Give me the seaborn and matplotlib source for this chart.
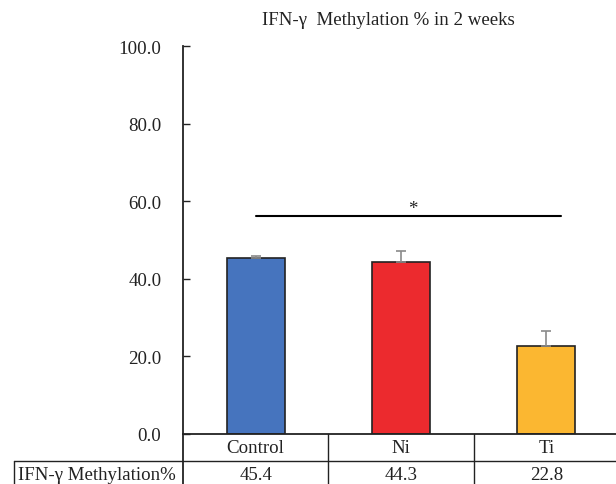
import matplotlib
matplotlib.use("Agg")
import matplotlib.pyplot as plt
import seaborn as sns
import pandas as pd
from matplotlib.lines import Line2D

# Data
groups = ["Control", "Ni", "Ti"]
methylation = [45.4, 44.3, 22.8]
errors = [0.4, 2.8, 3.8]
bar_colors = ["#4674BE", "#EC2A2E", "#FBB731"]
row_label = "IFN-\u03b3 Methylation%"
y_ticks = [0, 20, 40, 60, 80, 100]

sns.set_theme(style="white")
plt.rcParams["font.family"] = ["Liberation Serif", "DejaVu Serif"]

FS = 13.6
TXT = "#222222"

fig = plt.figure(figsize=(6.16, 4.85), dpi=100)
W, H = 616, 485
ax_left, ax_right, ax_top, ax_bottom = 183, 619, 47, 435
ax = fig.add_axes([ax_left / W, (H - ax_bottom) / H,
                   (ax_right - ax_left) / W, (ax_bottom - ax_top) / H])

df = pd.DataFrame({"group": groups, "value": methylation})
sns.barplot(data=df, x="group", y="value", hue="group", palette=bar_colors,
            saturation=1, width=0.4, edgecolor="#222222", linewidth=1.2,
            legend=False, dodge=False, ax=ax)

# one-sided error bars
ax.errorbar(range(len(groups)), methylation,
            yerr=[[0] * len(errors), errors], fmt="none",
            ecolor="#8a8a8a", elinewidth=1.2, capsize=3.5, capthick=1.2, zorder=3)

ax.set_xlim(-0.5, 2.5)
ax.set_ylim(0, 100)
ax.set_yticks(y_ticks)
ax.set_yticklabels([f"{t:.1f}" for t in y_ticks], fontsize=FS, color=TXT)
ax.tick_params(axis="y", direction="in", length=5, width=1, color=TXT,
               pad=15.5, left=True)
ax.set_xticks([])
ax.set_xlabel("")
ax.set_ylabel("")
for s in ["top", "right"]:
    ax.spines[s].set_visible(False)
for s in ["left", "bottom"]:
    ax.spines[s].set_color(TXT)
    ax.spines[s].set_linewidth(1.3)

ax.set_title("IFN-\u03b3  Methylation % in 2 weeks", fontsize=FS, color=TXT,
             x=(388 - ax_left) / (ax_right - ax_left), pad=16)

# significance bracket
ax.plot([0.0, 2.1], [56.2, 56.2], color="black", lw=1.5)
ax.text(1.08, 55.8, "*", ha="center", va="bottom", fontsize=FS, color=TXT)

# data table beneath the axis
tx = ax.get_xaxis_transform()
ah = ax_bottom - ax_top
def yfrac(py):
    return (ax_bottom - py) / ah
def xfrac(px):
    return (px - ax_left) / (ax_right - ax_left)

row_split = yfrac(462)
row_bottom = yfrac(486)
lc = "#222222"
for xb in [0.5, 1.5]:
    ax.add_line(Line2D([xb, xb], [0, row_bottom], transform=tx, color=lc,
                       lw=1.0, clip_on=False))
ax.add_line(Line2D([xfrac(14), 1.0], [row_split, row_split], transform=ax.transAxes,
                   color=lc, lw=1.0, clip_on=False))
ax.add_line(Line2D([0, 0], [0, row_bottom], transform=ax.transAxes,
                   color=lc, lw=1.3, clip_on=False))
ax.add_line(Line2D([xfrac(14), xfrac(14)], [row_split, row_bottom],
                   transform=ax.transAxes, color=lc, lw=1.0, clip_on=False))

for i, (g, v) in enumerate(zip(groups, methylation)):
    ax.text(i, yfrac(449), g, transform=tx, ha="center", va="center",
            fontsize=FS, color=TXT, clip_on=False)
    ax.text(i, yfrac(476), f"{v:.1f}", transform=tx, ha="center", va="center",
            fontsize=FS, color=TXT, clip_on=False)
ax.text(xfrac(18), yfrac(476), row_label, transform=ax.transAxes, ha="left",
        va="center", fontsize=FS, color=TXT, clip_on=False)

fig.savefig("out.png", dpi=100)
